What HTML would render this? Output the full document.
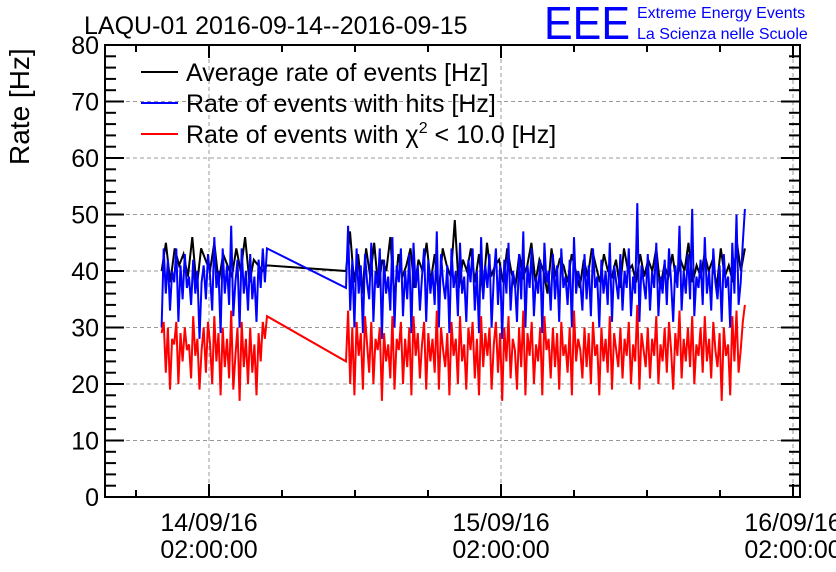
<!DOCTYPE html>
<html><head><meta charset="utf-8"><style>
html,body{margin:0;padding:0;background:#fff;}
svg{display:block;font-family:"Liberation Sans",sans-serif;}
</style></head><body>
<svg id="c" width="836" height="572"></svg>
<script>
// ---- data ----
const yTicks=[0,10,20,30,40,50,60,70,80];
const xTickHours=[0,24,48];
const xTickDates=["14/09/16","15/09/16","16/09/16"];
const xTickTimes=["02:00:00","02:00:00","02:00:00"];
const seg1Range=[-3.9,4.77];
const seg2Range=[11.26,44.05];
const blue1=[30,44,36,42,33,40,38,44,31,41,35,43,37,39,34,42,36,40,28,38,41,35,43,39,33,46,37,40,29,44,36,41,34,48,32,38,42,30,44,36,40,33,43,35,39,31,42,37,44,38,44];
const red1=[29,31,22,30,19,28,27,31,20,29,24,30,26,27,21,32,25,28,19,26,30,22,31,27,20,32,24,29,18,30,23,28,21,33,19,25,30,17,31,23,28,20,30,22,27,18,29,24,31,28,32];
const black1=[40,45,38,44,41,43,39,46,37,44,42,40,45,38,43,41,39,44,40,46,38,42,41,40,41];
const blue2=[37,48,33,42,30,44,36,41,29,43,38,35,45,31,40,37,44,28,42,36,39,33,46,30,41,38,44,32,40,35,43,29,45,37,41,33,39,44,31,42,36,40,34,47,30,43,38,35,41,29,44,37,40,32,45,36,39,31,42,38,44,33,40,29,46,35,41,37,43,30,39,44,34,41,28,42,36,45,33,40,38,31,43,35,47,30,41,37,44,32,39,36,42,29,45,38,40,33,43,35,41,31,44,37,39,34,42,30,46,36,40,38,33,43,35,41,32,44,37,39,30,42,36,40,34,45,31,41,38,35,43,33,40,37,44,32,39,36,52,31,41,38,35,43,33,40,37,45,32,39,36,42,34,44,38,31,41,37,48,33,40,36,43,35,51,32,39,37,42,34,46,36,40,33,44,38,35,41,31,43,37,39,30,45,36,50,34,38,45,51];
const red2=[24,33,20,30,18,31,25,29,19,32,27,22,31,20,28,26,30,17,29,24,27,21,32,19,28,26,31,20,28,23,30,18,32,25,29,21,27,31,19,29,24,28,22,33,19,30,26,23,29,18,31,25,28,20,32,24,27,19,30,26,31,21,28,18,32,23,29,25,30,19,27,31,22,29,17,30,24,32,21,28,26,19,30,23,33,18,29,25,31,20,27,24,30,18,32,26,28,21,30,23,29,19,31,25,27,22,30,18,33,24,28,26,21,30,23,29,20,31,25,27,18,30,24,28,22,32,19,29,26,23,30,21,28,25,31,20,27,24,34,19,29,26,23,30,21,28,25,32,20,27,24,30,22,31,26,19,29,25,33,21,28,24,30,23,32,20,27,25,30,22,32,24,28,21,31,26,23,29,17,30,25,27,18,32,24,33,22,26,31,34];
const black2=[40,47,38,43,36,44,39,45,37,42,40,46,35,43,39,41,44,37,42,40,45,38,43,36,44,41,39,49,37,42,40,44,38,43,36,45,39,41,42,38,44,40,37,43,39,41,45,38,42,40,36,44,39,42,41,38,43,40,37,42,39,44,41,38,43,40,39,42,37,44,40,41,38,43,39,42,40,44,37,41,39,43,38,42,40,45,38,41,39,43,40,42,37,44,39,41,38,45,40,44];

// ---- layout ----
const L=105,R=800,T=45,B=497;
const X=h=>209+h*(292/24);
const Y=v=>B-(v/80)*(B-T);
const NS="http://www.w3.org/2000/svg";
const svg=document.getElementById('c');
function mk(tag,attrs,parent){const e=document.createElementNS(NS,tag);for(const k in attrs)e.setAttribute(k,attrs[k]);(parent||svg).appendChild(e);return e;}

const grid=mk('g',{});


yTicks.forEach(v=>{if(v>0&&v<80)mk('line',{x1:L,x2:R,y1:Y(v),y2:Y(v),stroke:'#999','stroke-dasharray':'4,3','stroke-width':1},grid);});
xTickHours.forEach(h=>{const x=X(h);if(x<R-2)mk('line',{x1:x,x2:x,y1:T,y2:B,stroke:'#999','stroke-dasharray':'4,3','stroke-width':1},grid);});

function pts(arr,rng){const n=arr.length;return arr.map((v,i)=>[X(rng[0]+(rng[1]-rng[0])*i/(n-1)),Y(v)]);}
function series(a1,a2,color,name){
  const p=pts(a1,seg1Range).concat(pts(a2,seg2Range));
  const e=mk('polyline',{points:p.map(q=>q[0].toFixed(1)+','+q[1].toFixed(1)).join(' '),fill:'none',stroke:color,'stroke-width':2,'stroke-linejoin':'miter'});
  
  
}
series(black1,black2,'#000','average-rate-line');
series(blue1,blue2,'#0000ff','hits-rate-line');
series(red1,red2,'#ff0000','chi2-rate-line');

const ax=mk('g',{});


mk('rect',{x:L,y:T,width:R-L,height:B-T,fill:'none',stroke:'#000','stroke-width':2},ax);
for(let v=0;v<=80;v+=2){const y=Y(v),len=(v%10===0)?19:11;
  mk('line',{x1:L,x2:L+len,y1:y,y2:y,stroke:'#000','stroke-width':2},ax);
  mk('line',{x1:R,x2:R-len,y1:y,y2:y,stroke:'#000','stroke-width':2},ax);}
for(let h=-12;h<=48;h+=6){const x=X(h);if(x<L||x>R)continue;const len=(h%24===0)?13:7;
  mk('line',{x1:x,x2:x,y1:B,y2:B-len,stroke:'#000','stroke-width':2},ax);
  mk('line',{x1:x,x2:x,y1:T,y2:T+len,stroke:'#000','stroke-width':2},ax);}
yTicks.forEach(v=>{const t=mk('text',{x:99,y:Y(v)+9,'text-anchor':'end','font-size':25},ax);t.textContent=v;
  
  });
xTickHours.forEach((h,i)=>{const x=X(h);
  const a=mk('text',{x:x,y:531,'text-anchor':'middle','font-size':25},ax);a.textContent=xTickDates[i];
  
  
  const b=mk('text',{x:x,y:558,'text-anchor':'middle','font-size':25},ax);b.textContent=xTickTimes[i];
  
  });
</script>
<svg width="836" height="572" style="position:absolute;left:0;top:0;font-family:'Liberation Sans',sans-serif">
  <text x="84" y="34" font-size="25">LAQU-01 2016-09-14--2016-09-15</text>
  <text x="0" y="0" font-size="28" transform="translate(29,165) rotate(-90)">Rate [Hz]</text>
  <g>
    <line x1="141" x2="178" y1="72" y2="72" stroke="#000" stroke-width="2"/>
    <text x="186" y="81" font-size="25">Average rate of events [Hz]</text>
    <line x1="141" x2="178" y1="103" y2="103" stroke="#00f" stroke-width="2"/>
    <text x="186" y="112" font-size="25">Rate of events with hits [Hz]</text>
    <line x1="141" x2="178" y1="134" y2="134" stroke="#f00" stroke-width="2"/>
    <text x="186" y="143" font-size="25">Rate of events with χ<tspan font-size="16" dy="-10">2</tspan><tspan dy="10"> &lt; 10.0 [Hz]</tspan></text>
  </g>
  <g>
    <text x="544" y="39" font-size="46" fill="#0000ff" textLength="86" lengthAdjust="spacingAndGlyphs">EEE</text>
    <text x="637" y="18" font-size="16" fill="#0000ff">Extreme Energy Events</text>
    <text x="637" y="39" font-size="16" fill="#0000ff">La Scienza nelle Scuole</text>
  </g>
</svg>
</body></html>
